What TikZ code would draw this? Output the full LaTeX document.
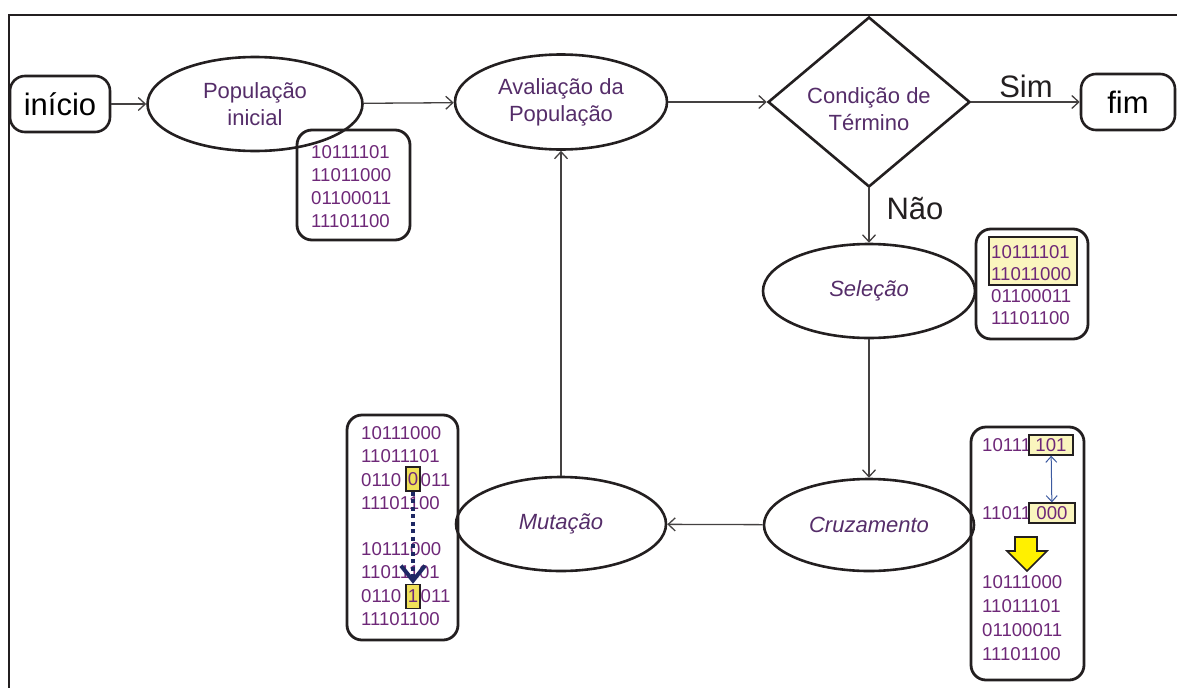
\documentclass[tikz,border=0pt]{standalone}
\usepackage{fontspec}
\setmainfont{Liberation Sans}
\usetikzlibrary{shapes.geometric,arrows.meta}
\definecolor{ink}{RGB}{35,31,32}
\definecolor{lbl}{RGB}{85,45,105}
\definecolor{bitc}{RGB}{110,40,120}
\definecolor{hlpale}{RGB}{250,245,190}
\definecolor{hlgold}{RGB}{240,225,90}
\definecolor{swapblue}{RGB}{60,90,160}
\definecolor{mutnavy}{RGB}{30,40,100}
\definecolor{yarrow}{RGB}{255,240,0}

\begin{document}
\begin{tikzpicture}[x=1pt,y=-1pt,
  stage/.style={ellipse,draw=ink,line width=2.6pt,inner sep=0pt,text=lbl,
    font=\fontsize{22}{27}\selectfont,align=center},
  term/.style={rectangle,rounded corners=15pt,draw=ink,line width=2.6pt,inner sep=0pt,
    font=\fontsize{31}{36}\selectfont},
  databox/.style={rectangle,rounded corners=15pt,draw=ink,line width=2.8pt,inner sep=0pt},
  bits/.style={anchor=west,inner sep=0pt,text=bitc,font=\fontsize{18.6}{22}\selectfont},
  hl/.style={rectangle,draw=ink,line width=1.3pt,inner sep=0pt,text=bitc,
    font=\fontsize{18.6}{22}\selectfont},
  flow/.style={draw=ink!85,line width=1.3pt,
    -{Straight Barb[length=7pt,width=13pt,line width=1.3pt]}},
  big/.style={inner sep=0pt,font=\fontsize{31}{36}\selectfont,text=ink},
]
\useasboundingbox (0,0) rectangle (1177,688);

% frame
\draw[ink,line width=2.5pt] (1177,15) -- (9,15) -- (9,688);

% flow stages
\node[term,minimum width=100pt,minimum height=56pt] (ini) at (60,104) {início};
\node[stage,minimum width=215pt,minimum height=94pt] (pop) at (255,104) {População\\inicial};
\node[stage,minimum width=212pt,minimum height=95pt] (aval) at (561,102) {Avaliação da\\População};
\node[diamond,draw=ink,line width=2.6pt,inner sep=0pt,aspect=1.19,
      minimum width=202pt,minimum height=170pt] (cond) at (869,102) {};
\node[text=lbl,font=\fontsize{22}{27}\selectfont,align=center,inner sep=0pt] (condtxt)
      at (869,109) {Condição de\\Término};
\node[term,minimum width=94pt,minimum height=56pt] (fim) at (1128,102) {fim};
\node[big] (sim) at (1026,86) {Sim};
\node[big] (nao) at (915,209) {Não};

\node[stage,minimum width=212pt,minimum height=94pt,font=\fontsize{22}{27}\selectfont\itshape] (sel) at (869,291) {Seleção};
\node[stage,minimum width=210pt,minimum height=92pt,font=\fontsize{22}{27}\selectfont\itshape] (cru) at (869,525) {Cruzamento};
\node[stage,minimum width=210pt,minimum height=94pt,font=\fontsize{22}{27}\selectfont\itshape] (mut) at (561,524) {Mutação};

% connectors
\draw[flow] (ini) -- (pop);
\draw[flow] (pop) -- (aval);
\draw[flow] (aval) -- (cond);
\draw[flow] (cond) -- (fim);
\draw[flow] (cond) -- (sel);
\draw[flow] (sel) -- (cru);
\draw[flow] (cru) -- (mut);
\draw[flow] (mut) -- (aval);

% initial population
\node[databox,minimum width=113pt,minimum height=110pt] (popbox) at (353.5,185) {};
\node[bits] (p1) at (311,152) {10111101};
\node[bits] (p2) at (311,175) {11011000};
\node[bits] (p3) at (311,198) {01100011};
\node[bits] (p4) at (311,221) {11101100};

% selection
\node[databox,minimum width=112pt,minimum height=110pt] (selbox) at (1032,284) {};
\node[hl,fill=hlpale,minimum width=88pt,minimum height=48pt] (selhl) at (1033,261) {};
\node[bits] (s1) at (991,252) {10111101};
\node[bits] (s2) at (991,274) {11011000};
\node[bits] (s3) at (991,296) {01100011};
\node[bits] (s4) at (991,318) {11101100};

% crossover
\node[databox,minimum width=113pt,minimum height=253pt] (crubox) at (1027.5,553.5) {};
\node[bits] (c1a) at (982,445) {10111};
\node[hl,fill=hlpale,minimum width=44pt,minimum height=20pt] (c1b) at (1051,445) {101};
\node[bits] (c2a) at (982,513) {11011};
\node[hl,fill=hlpale,minimum width=46pt,minimum height=20pt] (c2b) at (1052,513) {000};
\draw[swapblue,line width=1pt,
  {Straight Barb[length=6pt,width=11pt,line width=1pt]}-{Straight Barb[length=6pt,width=11pt,line width=1pt]}]
  (c1b) -- (c2b);
\draw[ink,line width=1.6pt,fill=yarrow,line join=miter]
  (1015,537) -- (1037,537) -- (1037,551) -- (1047,551) -- (1027,571)
  -- (1007,551) -- (1015,551) -- cycle;
\node[bits] (c3) at (982,582) {10111000};
\node[bits] (c4) at (982,606) {11011101};
\node[bits] (c5) at (982,630) {01100011};
\node[bits] (c6) at (982,654) {11101100};

% mutation
\node[databox,minimum width=111pt,minimum height=225pt] (mutbox) at (402.5,527.5) {};
\node[bits] (m1) at (361,433) {10111000};
\node[bits] (m2) at (361,456.5) {11011101};
\node[bits] (m3a) at (361,480) {0110};
\node[hl,fill=hlgold,minimum width=14pt,minimum height=24pt] (m3b) at (413,479) {0};
\node[bits] (m3c) at (420.5,480) {011};
\node[bits] (m4) at (361,503.5) {11101100};
\node[bits] (n1) at (361,549) {10111000};
\node[bits] (n2) at (361,572.5) {11011101};
\node[bits] (n3a) at (361,596) {0110};
\node[hl,fill=hlgold,minimum width=14pt,minimum height=24pt] (n3b) at (413,596.5) {1};
\node[bits] (n3c) at (420.5,596) {011};
\node[bits] (n4) at (361,619.5) {11101100};
\draw[mutnavy,line width=4pt,dash pattern=on 4pt off 3.5pt,
  -{Straight Barb[length=15pt,width=24pt,line width=4pt]}] (m3b) -- (n3b);
\end{tikzpicture}
\end{document}
